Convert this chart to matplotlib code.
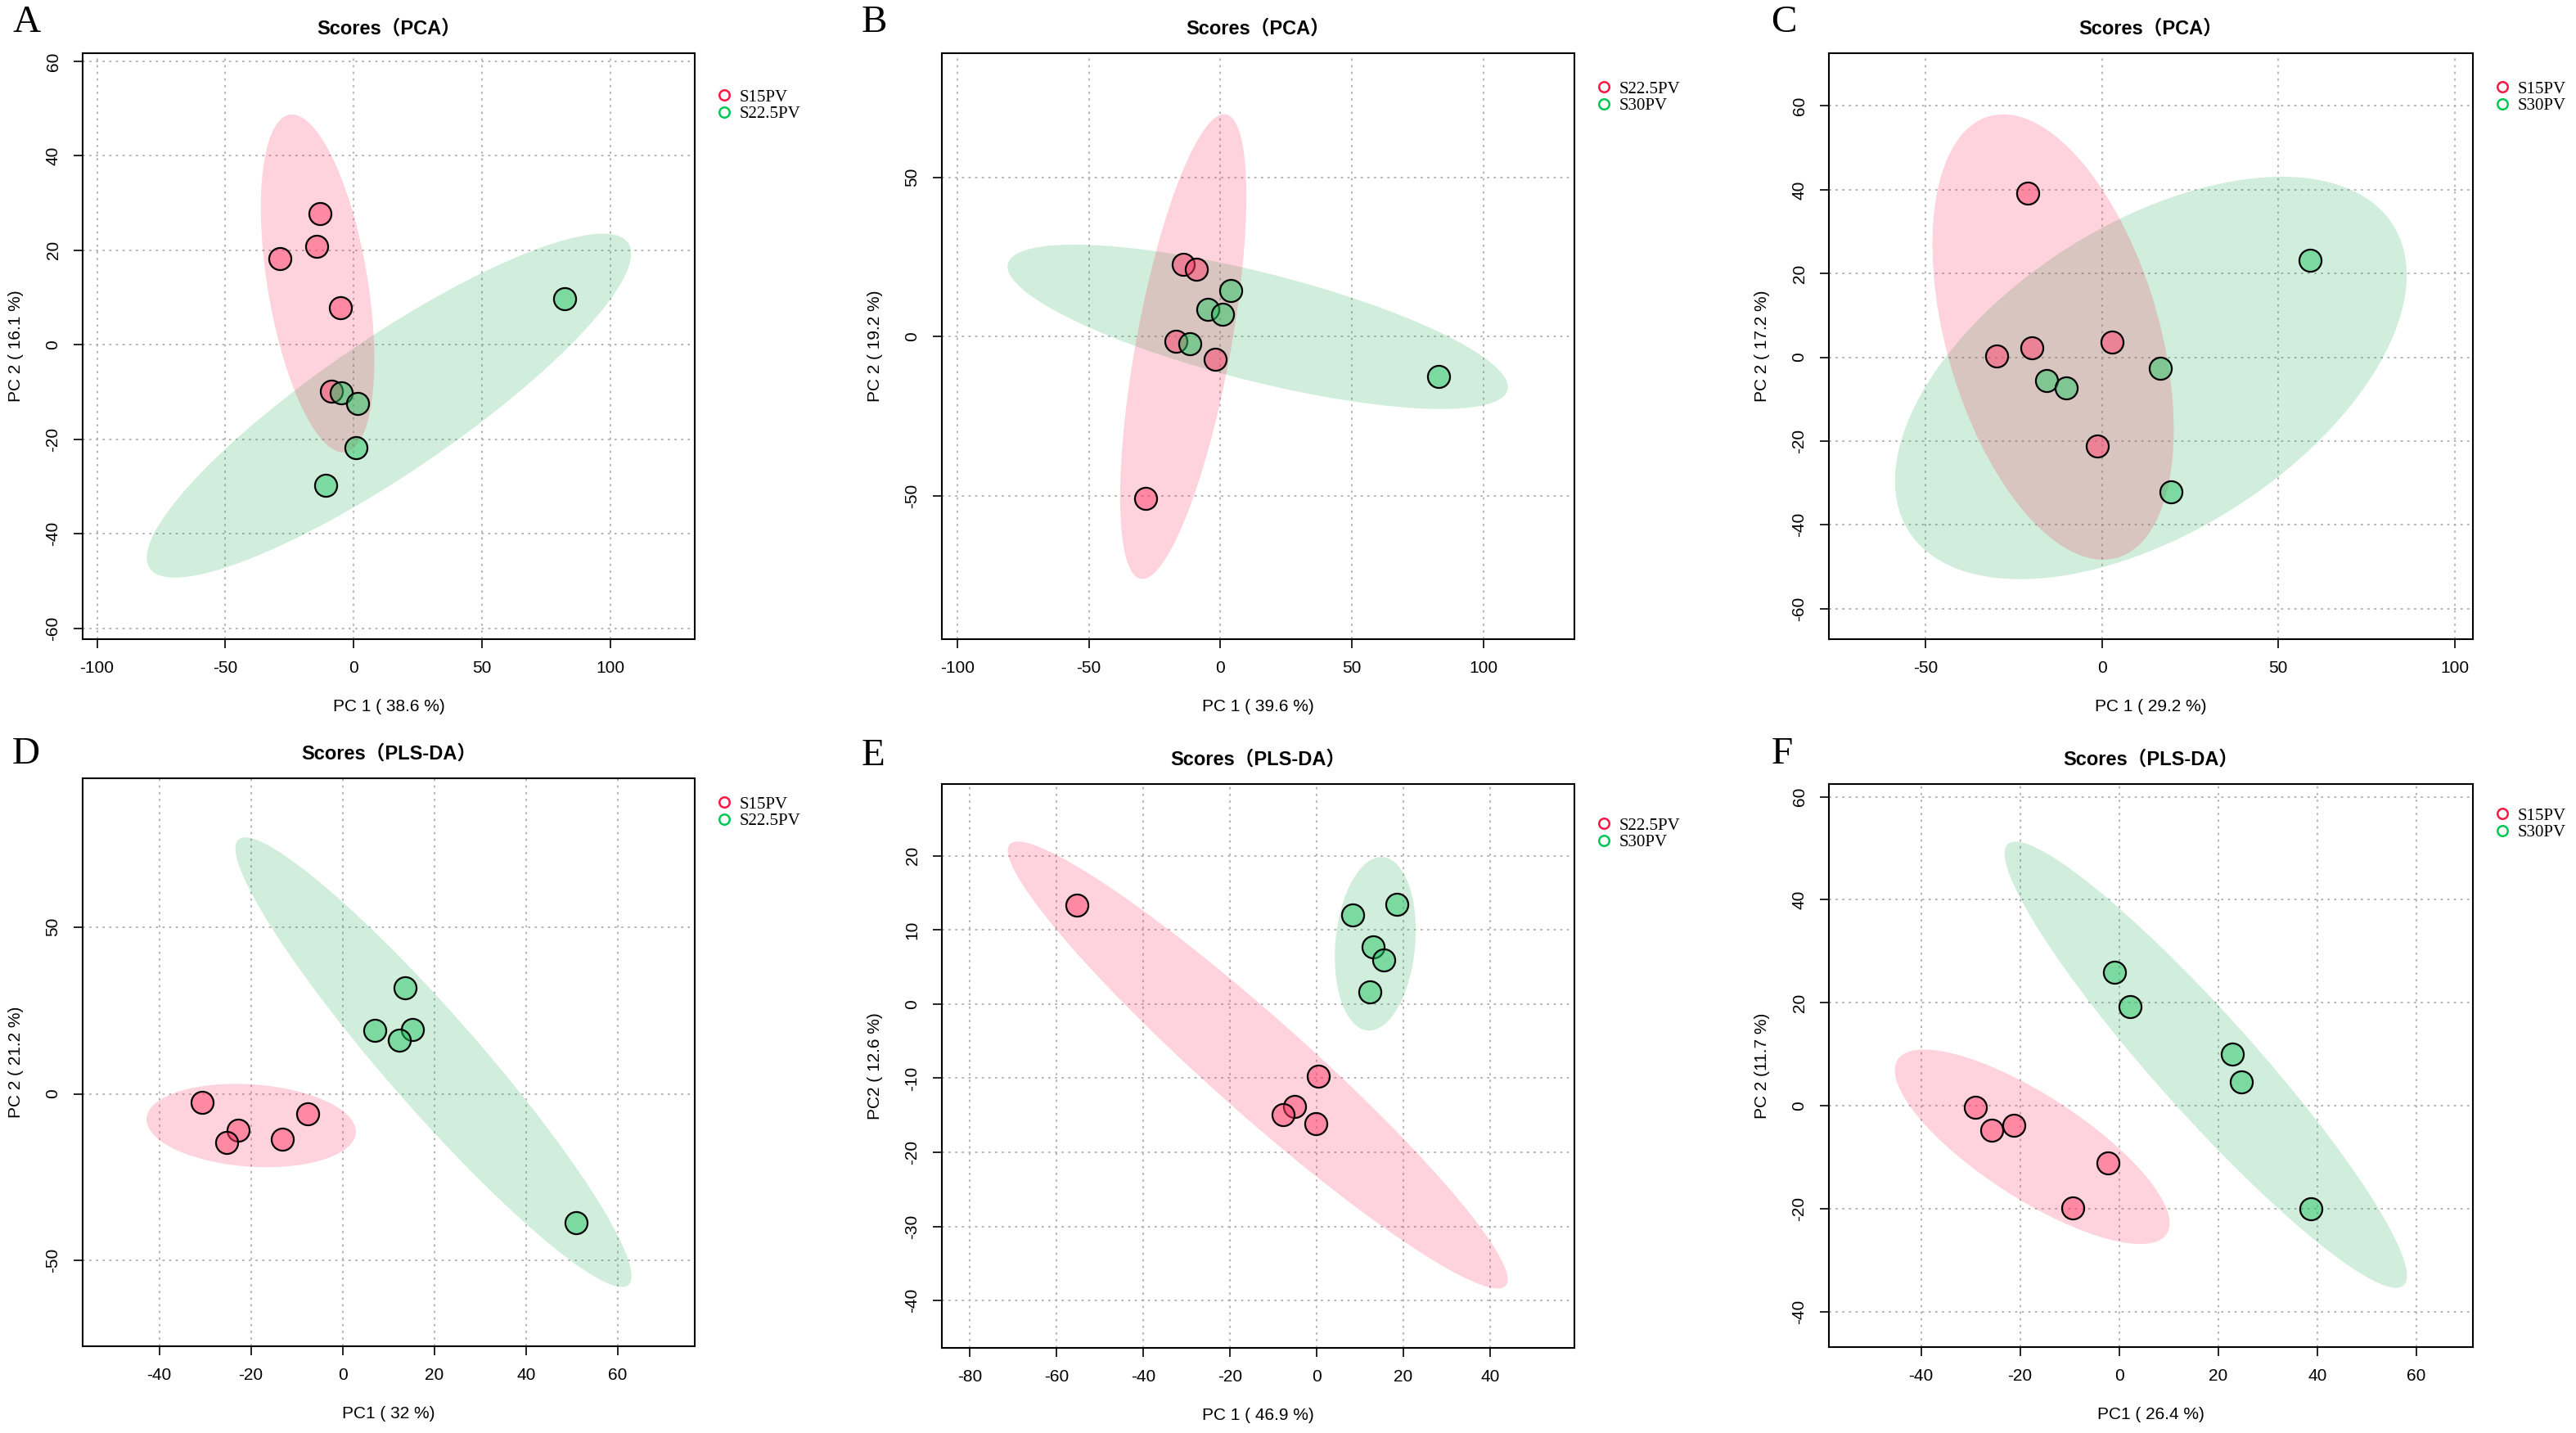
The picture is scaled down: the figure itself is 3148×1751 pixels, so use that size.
import numpy as np
import matplotlib
matplotlib.use("Agg")
import matplotlib.pyplot as plt
from matplotlib.patches import Ellipse
from matplotlib.lines import Line2D

plt.rcParams['font.family'] = ['Liberation Sans', 'Noto Sans CJK SC', 'DejaVu Sans']
plt.rcParams['axes.unicode_minus'] = False

# ---- score values ----
# A  PCA  S15PV vs S22.5PV
a_s15_pc1 = [-13.1, -14.4, -28.8, -5.2, -8.6]
a_s15_pc2 = [27.7, 20.9, 18.3, 7.8, -9.8]
a_s22_pc1 = [-4.9, 1.7, 0.9, -10.9, 82.2]
a_s22_pc2 = [-10.2, -12.5, -21.8, -29.7, 9.8]
# B  PCA  S22.5PV vs S30PV
b_s22_pc1 = [-14.2, -9.0, -16.8, -2.1, -28.5]
b_s22_pc2 = [22.6, 21.2, -1.4, -7.1, -50.9]
b_s30_pc1 = [3.8, -4.8, 0.8, -11.7, 82.9]
b_s30_pc2 = [14.6, 8.5, 6.9, -2.2, -12.4]
# C  PCA  S15PV vs S30PV
c_s15_pc1 = [-20.9, -29.9, -19.8, 2.8, -1.2]
c_s15_pc2 = [39.2, 0.3, 2.2, 3.7, -21.2]
c_s30_pc1 = [-15.6, -10.0, 16.5, 19.6, 58.9]
c_s30_pc2 = [-5.6, -7.3, -2.7, -32.2, 23.1]
# D  PLS-DA  S15PV vs S22.5PV
d_s15_pc1 = [-30.7, -22.8, -25.3, -13.2, -7.7]
d_s15_pc2 = [-2.6, -10.8, -14.6, -13.6, -6.0]
d_s22_pc1 = [13.6, 7.0, 15.2, 12.4, 50.9]
d_s22_pc2 = [31.7, 18.9, 19.3, 16.1, -38.6]
# E  PLS-DA  S22.5PV vs S30PV
e_s22_pc1 = [-55.3, 0.4, -5.1, -7.8, -0.1]
e_s22_pc2 = [13.4, -9.7, -13.8, -14.9, -16.1]
e_s30_pc1 = [18.6, 8.3, 13.1, 15.4, 12.3]
e_s30_pc2 = [13.5, 12.0, 7.7, 5.9, 1.6]
# F  PLS-DA  S15PV vs S30PV
f_s15_pc1 = [-29.1, -25.8, -21.2, -2.3, -9.4]
f_s15_pc2 = [-0.3, -4.8, -3.8, -11.1, -19.9]
f_s30_pc1 = [-0.9, 2.2, 22.8, 24.6, 38.7]
f_s30_pc2 = [26.0, 19.2, 10.1, 4.6, -20.1]

letters = ['A', 'B', 'C', 'D', 'E', 'F']
titles = ['Scores（PCA）'] * 3 + ['Scores（PLS-DA）'] * 3
group_names = [('S15PV', 'S22.5PV'), ('S22.5PV', 'S30PV'), ('S15PV', 'S30PV'),
               ('S15PV', 'S22.5PV'), ('S22.5PV', 'S30PV'), ('S15PV', 'S30PV')]
x_labels = ['PC 1 ( 38.6 %)', 'PC 1 ( 39.6 %)', 'PC 1 ( 29.2 %)',
            'PC1 ( 32 %)', 'PC 1 ( 46.9 %)', 'PC1 ( 26.4 %)']
y_labels = ['PC 2 ( 16.1 %)', 'PC 2 ( 19.2 %)', 'PC 2 ( 17.2 %)',
            'PC 2 ( 21.2 %)', 'PC2 ( 12.6 %)', 'PC 2 (11.7 %)']
x_ticks = [[-100, -50, 0, 50, 100], [-100, -50, 0, 50, 100], [-50, 0, 50, 100],
           [-40, -20, 0, 20, 40, 60], [-80, -60, -40, -20, 0, 20, 40],
           [-40, -20, 0, 20, 40, 60]]
y_ticks = [[-60, -40, -20, 0, 20, 40, 60], [-50, 0, 50], [-60, -40, -20, 0, 20, 40, 60],
           [-50, 0, 50], [-40, -30, -20, -10, 0, 10, 20], [-40, -20, 0, 20, 40, 60]]
x_lims = [(-105.6, 133), (-105.9, 134.6), (-77.3, 105.1),
          (-56.7, 76.8), (-86.5, 59.5), (-58.6, 71.4)]
y_lims = [(-62.3, 61.7), (-95.0, 89.0), (-67.3, 72.6),
          (-75.7, 94.6), (-46.4, 29.7), (-46.9, 62.5)]

scores = [
    (a_s15_pc1, a_s15_pc2, a_s22_pc1, a_s22_pc2),
    (b_s22_pc1, b_s22_pc2, b_s30_pc1, b_s30_pc2),
    (c_s15_pc1, c_s15_pc2, c_s30_pc1, c_s30_pc2),
    (d_s15_pc1, d_s15_pc2, d_s22_pc1, d_s22_pc2),
    (e_s22_pc1, e_s22_pc2, e_s30_pc1, e_s30_pc2),
    (f_s15_pc1, f_s15_pc2, f_s30_pc1, f_s30_pc2),
]

# layout in pixels of the 3148 x 1751 canvas: left, top, right, bottom of the plot box
W, H = 3148, 1751
boxes = [(101, 65, 849, 781), (1151, 65, 1924, 781), (2235, 65, 3022, 781),
         (101, 951, 849, 1645), (1151, 958, 1924, 1647), (2235, 958, 3022, 1646)]
letter_pos = [(15, 28), (1053, 28), (2164, 28), (15, 922), (1053, 924), (2165, 922)]
legend_top = [44, 34, 34, 22, 41, 29]

red_edge = '#FF1744'
green_edge = '#00C853'
red_ell = (1.0, 0.094, 0.298)
green_ell = (0.03, 0.65, 0.26)
red_pt = (1.0, 0.25, 0.42, 0.5)
green_pt = (0.16, 0.78, 0.40, 0.5)

chi2_95 = -2 * np.log(0.05)


def conf_ellipse(ax, x, y, color):
    x = np.asarray(x)
    y = np.asarray(y)
    cov = np.cov(x, y)
    vals, vecs = np.linalg.eigh(cov)
    order = vals.argsort()[::-1]
    vals, vecs = vals[order], vecs[:, order]
    angle = np.degrees(np.arctan2(vecs[1, 0], vecs[0, 0]))
    w, h = 2 * np.sqrt(chi2_95 * vals)
    ax.add_patch(Ellipse((x.mean(), y.mean()), w, h, angle=angle,
                         facecolor=color, alpha=0.19, edgecolor='none', zorder=1))


fig = plt.figure(figsize=(W / 100, H / 100), dpi=100)

for i in range(6):
    l, t, r, b = boxes[i]
    ax = fig.add_axes([l / W, (H - b) / H, (r - l) / W, (b - t) / H])
    x1, y1, x2, y2 = scores[i]

    # green drawn first, red laid over it
    conf_ellipse(ax, x2, y2, green_ell)
    conf_ellipse(ax, x1, y1, red_ell)
    ax.scatter(x1, y1, s=380, c=[red_pt], edgecolors='black', linewidths=1.6, zorder=3)
    ax.scatter(x2, y2, s=380, c=[green_pt], edgecolors='black', linewidths=1.6, zorder=3)

    ax.set_xlim(x_lims[i])
    ax.set_ylim(y_lims[i])
    ax.set_xticks(x_ticks[i])
    ax.set_yticks(y_ticks[i])
    ax.set_xticklabels([str(v) for v in x_ticks[i]])
    ax.set_yticklabels([str(v) for v in y_ticks[i]], rotation=90, va='center')
    ax.grid(True, linestyle=(0, (1.5, 3)), color='#B0B0B0', linewidth=1.3)
    ax.set_axisbelow(True)
    ax.tick_params(direction='out', length=8, width=1.2, labelsize=15, pad=11)
    for sp in ax.spines.values():
        sp.set_linewidth(1.5)
        sp.set_color('black')

    ax.set_xlabel(x_labels[i], fontsize=15, labelpad=20)
    ax.set_ylabel(y_labels[i], fontsize=15, labelpad=19)
    ax.set_title(titles[i], fontsize=17, fontweight='bold', pad=17)

    handles = [Line2D([], [], marker='o', linestyle='none', markerfacecolor='none',
                      markeredgecolor=red_edge, markersize=9, markeredgewidth=1.8),
               Line2D([], [], marker='o', linestyle='none', markerfacecolor='none',
                      markeredgecolor=green_edge, markersize=9, markeredgewidth=1.8)]
    ax.legend(handles, group_names[i], loc='upper left',
              bbox_to_anchor=(1 + 28 / (r - l), 1 - legend_top[i] / (b - t)),
              frameon=False, borderpad=0, borderaxespad=0, handlelength=0.8,
              handletextpad=0.5, labelspacing=0.05,
              prop={'family': 'Liberation Serif', 'size': 15})

    lx, ly = letter_pos[i]
    fig.text(lx / W, 1 - ly / H, letters[i], fontsize=34, family='Liberation Serif',
             ha='left', va='center')

fig.savefig('out.png', dpi=100)
